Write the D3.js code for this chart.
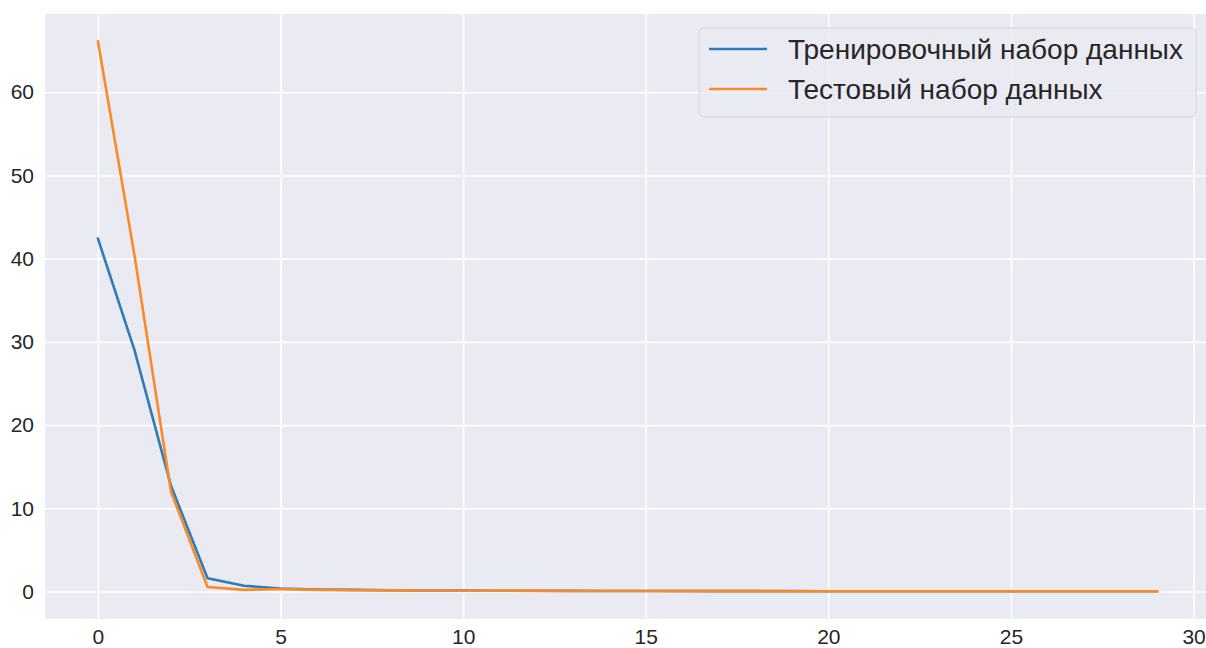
<!DOCTYPE html>
<html>
<head>
<meta charset="utf-8">
<script src="https://cdn.jsdelivr.net/npm/d3@7"></script>
<style>
  body { margin: 0; background: #fff; }
  svg { display: block; font-family: "Liberation Sans", Arial, sans-serif; }
</style>
</head>
<body>
<svg id="chart"></svg>
<script>
const width = 1206;
const height = 648;

// epochs and loss values
const epochs = d3.range(0, 30);
const trainLoss = [42.4, 29.0, 12.7, 1.6, 0.7, 0.35, 0.25, 0.2, 0.16, 0.13,
  0.11, 0.1, 0.09, 0.08, 0.07, 0.06, 0.06, 0.05, 0.05, 0.05,
  0.04, 0.04, 0.04, 0.04, 0.03, 0.03, 0.03, 0.03, 0.03, 0.03];
const testLoss = [66.1, 40.4, 12.0, 0.55, 0.2, 0.3, 0.2, 0.17, 0.14, 0.12,
  0.1, 0.09, 0.08, 0.07, 0.06, 0.06, 0.05, 0.05, 0.05, 0.04,
  0.04, 0.04, 0.04, 0.03, 0.03, 0.03, 0.03, 0.03, 0.03, 0.03];
const seriesNames = ['Тренировочный набор данных', 'Тестовый набор данных'];
const seriesColors = ['#2f7bb6', '#f98a2a'];
const xTicks = [0, 5, 10, 15, 20, 25, 30];
const yTicks = [0, 10, 20, 30, 40, 50, 60];

const plot = { left: 45, right: 1210, top: 14, bottom: 619 };

const svg = d3.select('#chart')
  .attr('width', width)
  .attr('height', height);

// matplotlib style 5% margins
const xScale = d3.scaleLinear()
  .domain([-1.45, 30.45])
  .range([plot.left, plot.right]);
const yScale = d3.scaleLinear()
  .domain([-3.3, 69.4])
  .range([plot.bottom, plot.top]);

// darkgrid background
svg.append('rect')
  .attr('x', plot.left)
  .attr('y', plot.top)
  .attr('width', plot.right - plot.left)
  .attr('height', plot.bottom - plot.top)
  .attr('fill', '#eaeaf2');

// grid lines ---------------------------
svg.append('g')
  .attr('transform', `translate(0, ${plot.bottom})`)
  .call(d3.axisBottom(xScale).tickValues(xTicks).tickSize(-(plot.bottom - plot.top)).tickFormat(''))
  .call(g => g.select('.domain').remove())
  .call(g => g.selectAll('line').attr('stroke', '#fff').attr('stroke-width', 1.6));
svg.append('g')
  .attr('transform', `translate(${plot.left}, 0)`)
  .call(d3.axisLeft(yScale).tickValues(yTicks).tickSize(-(plot.right - plot.left)).tickFormat(''))
  .call(g => g.select('.domain').remove())
  .call(g => g.selectAll('line').attr('stroke', '#fff').attr('stroke-width', 1.6));

// tick labels
svg.append('g')
  .attr('transform', `translate(0, ${plot.bottom})`)
  .call(d3.axisBottom(xScale).tickValues(xTicks).tickSize(0).tickPadding(10))
  .call(g => g.select('.domain').remove())
  .call(g => g.selectAll('text')
    .attr('fill', '#262626')
    .style('font-size', '21px')
    .style('font-family', '"Liberation Sans", Arial, sans-serif'));
svg.append('g')
  .attr('transform', `translate(${plot.left}, 0)`)
  .call(d3.axisLeft(yScale).tickValues(yTicks).tickSize(0).tickPadding(11))
  .call(g => g.select('.domain').remove())
  .call(g => g.selectAll('text')
    .attr('fill', '#262626')
    .style('font-size', '21px')
    .style('font-family', '"Liberation Sans", Arial, sans-serif'));

// lines --------------------------------
const line = d3.line()
  .x((d, i) => xScale(epochs[i]))
  .y(d => yScale(d));

[trainLoss, testLoss].forEach((values, i) => {
  svg.append('path')
    .datum(values)
    .attr('fill', 'none')
    .attr('stroke', seriesColors[i])
    .attr('stroke-width', 2.6)
    .attr('stroke-linejoin', 'round')
    .attr('stroke-linecap', 'square')
    .attr('d', line);
});

// legend -------------------------------
const legend = svg.append('g').attr('transform', 'translate(699, 28)');
legend.append('rect')
  .attr('width', 497)
  .attr('height', 89)
  .attr('rx', 5)
  .attr('fill', '#eaeaf2')
  .attr('fill-opacity', 0.8)
  .attr('stroke', '#d4d4dc')
  .attr('stroke-width', 1);

seriesNames.forEach((name, i) => {
  const row = legend.append('g').attr('transform', `translate(0, ${21 + i * 40})`);
  row.append('line')
    .attr('x1', 10)
    .attr('x2', 68)
    .attr('stroke', seriesColors[i])
    .attr('stroke-width', 2.6);
  row.append('text')
    .attr('x', 89)
    .attr('y', 10)
    .attr('fill', '#262626')
    .style('font-size', '28px')
    .text(name);
});
</script>
</body>
</html>
